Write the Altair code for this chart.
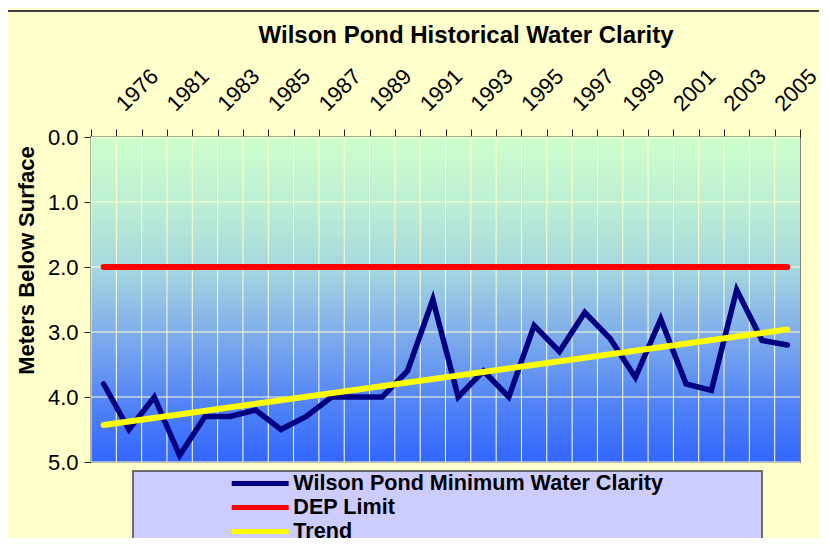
import json
import altair as alt
import pandas as pd

# ---- data ----
years = ["1976", "1979", "1981", "1982", "1983", "1984", "1985", "1986", "1987",
         "1988", "1989", "1990", "1991", "1992", "1993", "1994", "1995", "1996",
         "1997", "1998", "1999", "2000", "2001", "2002", "2003", "2004", "2005", "2006"]
clarity = [3.8, 4.5, 4.0, 4.9, 4.3, 4.3, 4.2, 4.5, 4.3, 4.0, 4.0, 4.0, 3.6, 2.5,
           4.0, 3.6, 4.0, 2.9, 3.3, 2.7, 3.1, 3.7, 2.8, 3.8, 3.9, 2.35, 3.13, 3.2]
dep_years = ["1976", "2006"]
dep_values = [2.0, 2.0]
trend_years = ["1976", "2006"]
trend_values = [4.43, 2.96]
shown_labels = ["1976", "1981", "1983", "1985", "1987", "1989", "1991", "1993",
                "1995", "1997", "1999", "2001", "2003", "2005"]
y_ticks = [0, 1, 2, 3, 4, 5]
series = ["Wilson Pond Minimum Water Clarity", "DEP Limit", "Trend"]
colors = ["#000080", "#FF0000", "#FFFF00"]
title_text = "Wilson Pond Historical Water Clarity"
y_title = "Meters Below Surface"

rows = []
for yr, v in zip(years, clarity):
    rows.append({"year": yr, "value": v, "series": series[0]})
for yr, v in zip(dep_years, dep_values):
    rows.append({"year": yr, "value": v, "series": series[1]})
for yr, v in zip(trend_years, trend_values):
    rows.append({"year": yr, "value": v, "series": series[2]})
df = pd.DataFrame(rows)

FONT = "Liberation Sans"
W, H = 709, 325
GRID = "#FFFFCC"

label_expr = f"indexof({json.dumps(shown_labels)}, datum.value) >= 0 ? datum.label : ''"

x_scale = alt.Scale(type="band", domain=years, paddingInner=0, paddingOuter=0)
y_scale = alt.Scale(domain=[0, 5], reverse=True, nice=False, zero=False)

x_axis = alt.Axis(
    orient="top", title=None, labelAngle=-45, labelAlign="left",
    labelBaseline="middle", labelExpr=label_expr, labelOverlap=False,
    labelFont=FONT, labelFontSize=22, labelColor="black",
    labelPadding=22, labelOffset=16, labelBound=False, labelFlush=False,
    tickBand="extent", ticks=True, tickSize=8, tickColor="#222222",
    domainColor="#333333", domainWidth=2, grid=False,
)
y_axis = alt.Axis(
    orient="left", values=y_ticks, format=".1f",
    labelFont=FONT, labelFontSize=22, labelColor="black", labelPadding=6,
    tickSize=7, tickColor="#222222", domainColor="#333333", domainWidth=2,
    grid=False,
    title=y_title, titleFont=FONT, titleFontSize=22,
    titleFontWeight="bold", titleColor="black", titleAngle=-90,
    titleX=-58, titleY=123, titleBaseline="alphabetic", titleAlign="center",
)

x_enc = alt.X("year:N", sort=years, scale=x_scale, bandPosition=0.5, axis=x_axis)
y_enc = alt.Y("value:Q", scale=y_scale, axis=y_axis)
color_enc = alt.Color(
    "series:N",
    scale=alt.Scale(domain=series, range=colors),
    legend=alt.Legend(
        orient="none", legendX=156.7, legendY=334, title=None,
        symbolType="M-2.85,0H2.85", symbolSize=400, symbolStrokeWidth=5,
        labelFont=FONT, labelFontSize=21.6, labelFontWeight="bold",
        labelColor="black", labelOffset=20.6, padding=0, rowPadding=0,
        labelLimit=600,
    ),
)

gradient = alt.LinearGradient(
    gradient="linear", x1=0, y1=0, x2=0, y2=1,
    stops=[
        alt.GradientStop(offset=0.0, color="#CCFFCC"),
        alt.GradientStop(offset=0.2, color="#BDEFD3"),
        alt.GradientStop(offset=0.4, color="#A6D8DF"),
        alt.GradientStop(offset=0.6, color="#80AEEB"),
        alt.GradientStop(offset=0.8, color="#5587F5"),
        alt.GradientStop(offset=1.0, color="#3366FF"),
    ],
)

one = pd.DataFrame({"k": [0]})
plot_bg = alt.Chart(one).mark_rect(fill=gradient, strokeWidth=0).encode(
    x=alt.value(0), x2=alt.value(W), y=alt.value(0), y2=alt.value(H)
)
hgrid = alt.Chart(pd.DataFrame({"value": y_ticks})).mark_rule(
    color=GRID, strokeWidth=1
).encode(y=y_enc)
vgrid = alt.Chart(pd.DataFrame({"year": years})).mark_rule(
    color=GRID, strokeWidth=1
).encode(x=alt.X("year:N", sort=years, scale=x_scale, bandPosition=0, axis=x_axis))

legend_box = alt.Chart(one).mark_rect(
    fill="#CCCCFF", stroke="#444444", strokeWidth=1.5
).encode(
    x=alt.value(42), x2=alt.value(671), y=alt.value(334), y2=alt.value(H + 120)
)
top_border = alt.Chart(one).mark_rule(color="#404040", strokeWidth=2).encode(
    x=alt.value(-83), x2=alt.value(W + 30), y=alt.value(-126)
)
title_mark = alt.Chart(one).mark_text(
    text=title_text, font=FONT, fontSize=24, fontWeight="bold", color="black",
    align="center", baseline="alphabetic",
).encode(x=alt.value(375), y=alt.value(-94))

base = alt.Chart(df)
clar_line = base.transform_filter(alt.datum.series == series[0]).mark_line(
    strokeWidth=5.5, strokeCap="round", strokeJoin="miter"
).encode(x=x_enc, y=y_enc, color=color_enc)
dep_line = base.transform_filter(alt.datum.series == series[1]).mark_line(
    strokeWidth=6, strokeCap="round"
).encode(x=x_enc, y=y_enc, color=color_enc)
trend_line = base.transform_filter(alt.datum.series == series[2]).mark_line(
    strokeWidth=6, strokeCap="round"
).encode(x=x_enc, y=y_enc, color=color_enc)

chart = alt.layer(
    plot_bg, hgrid, vgrid, legend_box, top_border, title_mark,
    clar_line, dep_line, trend_line
).properties(
    width=W, height=H,
    autosize=alt.AutoSizeParams(type="none"),
    padding={"left": 83, "top": 129, "right": 19, "bottom": 76},
    background="#FFFFCC",
).configure_view(stroke="#808080", strokeWidth=2)

chart.save("out.html", embed_options={"renderer": "svg", "actions": False})
